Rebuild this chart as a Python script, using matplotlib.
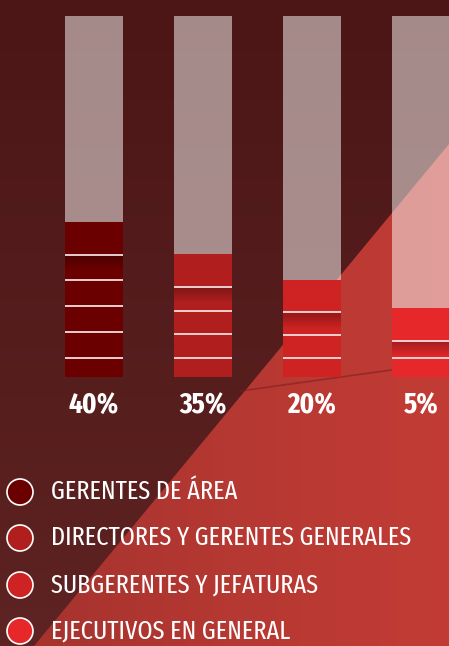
import numpy as np
import matplotlib
matplotlib.use('Agg')
import matplotlib.pyplot as plt
from matplotlib import font_manager
from matplotlib.patches import Circle, Polygon

categories = ['GERENTES DE ÁREA', 'DIRECTORES Y GERENTES GENERALES',
              'SUBGERENTES Y JEFATURAS', 'EJECUTIVOS EN GENERAL']
pct_labels = ['40%', '35%', '20%', '5%']
fill_levels = [0.43, 0.34, 0.27, 0.19]   # share of each column that is coloured
stripe_counts = [5, 4, 3, 2]
bar_colors = ['#6b0000', '#b01f1e', '#cf2222', '#e6282b']


def pick_narrow(bold):
    # look for the narrowest condensed face that is installed
    want = 700 if bold else 400
    found = []
    for f in font_manager.fontManager.ttflist:
        tag = (f.name + ' ' + f.fname).lower().replace(' ', '')
        if ('condensed' in tag or 'narrow' in tag) and 'italic' not in tag and 'oblique' not in tag:
            w = f.weight if isinstance(f.weight, int) else (700 if 'bold' in str(f.weight) else 400)
            if 'extracondensed' in tag:
                rank = 0
            elif 'semicondensed' in tag or 'ultracondensed' in tag:
                rank = 2
            else:
                rank = 1
            found.append((rank, abs(w - want), f.fname))
    if found:
        found.sort()
        return font_manager.FontProperties(fname=found[0][2])
    return font_manager.FontProperties(family='DejaVu Sans', stretch='condensed',
                                       weight='bold' if bold else 'normal')


W, H = 449, 646
fig = plt.figure(figsize=(W / 100, H / 100), dpi=100)

# background in pixel coords
bg = fig.add_axes([0, 0, 1, 1])
bg.set_xlim(0, W)
bg.set_ylim(H, 0)
bg.axis('off')
grad = np.linspace(0, 1, 256).reshape(-1, 1)
dark = matplotlib.colors.LinearSegmentedColormap.from_list('d', ['#4c1616', '#5e2323'])
bg.imshow(grad, cmap=dark, extent=[0, W, H, 0], aspect='auto', zorder=0)

red_zone = Polygon([(449, 144), (34, 646), (449, 646)], closed=True,
                   facecolor='none', edgecolor='none', zorder=1)
bg.add_patch(red_zone)
redmap = matplotlib.colors.LinearSegmentedColormap.from_list('r', ['#a3322e', '#b53832', '#c23c35'])
im = bg.imshow(np.linspace(0, 1, 256).reshape(1, -1), cmap=redmap,
               extent=[0, W, H, 0], aspect='auto', zorder=1)
im.set_clip_path(red_zone)
bg.plot([240, 449], [391, 362], color='#7a2020', lw=1.2, alpha=0.6, zorder=2)
bg.set_xlim(0, W)
bg.set_ylim(H, 0)

# columns
ax = fig.add_axes([0, (H - 377) / H, 1, 361 / H])
ax.patch.set_alpha(0)
ax.axis('off')
x = np.arange(len(categories))
width = 58 / 109

ax.bar(x, [1] * len(x), width=width, color='white', alpha=0.5, linewidth=0)
ax.bar(x, fill_levels, width=width, color=bar_colors, linewidth=0, zorder=2)

shade = np.linspace(0.3, 0, 64).reshape(-1, 1)
for xi, lvl, n in zip(x, fill_levels, stripe_counts):
    ys = np.linspace(0.053, lvl - 0.091, n)
    top = ys[-1]
    ax.imshow(np.dstack([np.zeros_like(shade)] * 3 + [shade]),
              extent=[xi - width / 2, xi + width / 2, top - 0.045, top],
              aspect='auto', zorder=3)
    for y in ys:
        ax.plot([xi - width / 2, xi + width / 2], [y, y], color='#f4dede',
                lw=1.3, zorder=4, solid_capstyle='butt')
ax.set_xlim(-94 / 109, (W - 94) / 109)
ax.set_ylim(0, 1)

# percentage labels
bold_fp = pick_narrow(True)
reg_fp = pick_narrow(False)
for xi, lab in zip(x, pct_labels):
    bg.text(94 + 109 * xi, 405, lab, color='white', fontproperties=bold_fp,
            fontsize=21, ha='center', va='center', zorder=5)

# legend
legend_y = [492, 538, 585, 631]
for y, c, name in zip(legend_y, bar_colors, categories):
    bg.add_patch(Circle((20, y), 13, facecolor=c, edgecolor='white', lw=1.2, zorder=5))
    bg.text(51, y, name, color='white', fontproperties=reg_fp, fontsize=19,
            ha='left', va='center', zorder=5)

fig.savefig('out.png', dpi=100)
